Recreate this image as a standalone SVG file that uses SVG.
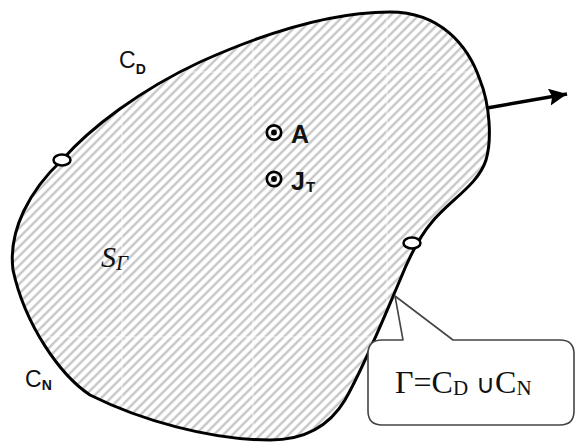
<svg xmlns="http://www.w3.org/2000/svg" width="576" height="443" viewBox="0 0 576 443">
<style>
.sans{font-family:"Liberation Sans",Arial,sans-serif;fill:#111}
.serif{font-family:"Liberation Serif","Times New Roman",serif;fill:#111}
.bnd{fill:url(#hatch);stroke:none}
.mk{fill:#fff;stroke:#000;stroke-width:2.5}
.seam{stroke:#fff;stroke-width:1.2;opacity:0.7}
</style>
<defs>
<pattern id="hatch" patternUnits="userSpaceOnUse" width="6.6" height="6.6" patternTransform="rotate(45)">
<rect width="6.6" height="6.6" fill="#fff"/>
<line x1="3.3" y1="0" x2="3.3" y2="6.6" stroke="#c2c2c2" stroke-width="2.2"/>
</pattern>
<clipPath id="regionClip">
<path d="M62,160 C90,128 140,90 200,62 C260,35 330,12 390,12 C440,12 468,45 480,80 C490,105 492,140 486,160 C478,185 450,200 432,222 C420,236 410,255 400,280 C385,315 365,365 345,400 C330,425 305,440 270,440 C210,440 140,420 90,395 C60,375 25,325 13,270 C8,230 30,190 62,160 Z"/>
</clipPath>
<marker id="arrowHead" markerUnits="userSpaceOnUse" markerWidth="19" markerHeight="18" refX="18" refY="8.5" orient="auto">
<path d="M0,0 L18,8.5 L0,17 L3,8.5 Z" fill="#000"/>
</marker>
</defs>
<rect width="576" height="443" fill="#fff"/>
<g id="region">
<path class="bnd" d="M62,160 C90,128 140,90 200,62 C260,35 330,12 390,12 C440,12 468,45 480,80 C490,105 492,140 486,160 C478,185 450,200 432,222 C420,236 410,255 400,280 C385,315 365,365 345,400 C330,425 305,440 270,440 C210,440 140,420 90,395 C60,375 25,325 13,270 C8,230 30,190 62,160 Z"/>
<g clip-path="url(#regionClip)">
<line class="seam" x1="122" y1="0" x2="122" y2="443"/>
<line class="seam" x1="253" y1="0" x2="253" y2="443"/>
<line class="seam" x1="387" y1="0" x2="387" y2="443"/>
<line class="seam" x1="0" y1="72" x2="576" y2="72"/>
<line class="seam" x1="0" y1="337" x2="576" y2="337"/>
</g>
<path d="M62,160 C90,128 140,90 200,62 C260,35 330,12 390,12 C440,12 468,45 480,80 C490,105 492,140 486,160 C478,185 450,200 432,222 C420,236 410,255 400,280 C385,315 365,365 345,400 C330,425 305,440 270,440 C210,440 140,420 90,395 C60,375 25,325 13,270 C8,230 30,190 62,160 Z" fill="none" stroke="#000" stroke-width="3"/>
<text class="serif" x="101" y="267" font-size="30" font-style="italic">S<tspan font-size="21" dy="3">Γ</tspan></text>
</g>
<g id="markerLeft"><ellipse class="mk" cx="62" cy="160" rx="8.5" ry="5.5"/></g>
<g id="markerRight"><ellipse class="mk" cx="412" cy="243" rx="8.5" ry="5.5"/></g>
<g id="labelCD">
<text class="sans" x="119" y="68" font-size="23">C<tspan font-size="14" font-weight="bold" dy="6">D</tspan></text>
</g>
<g id="labelCN">
<text class="sans" x="25" y="387" font-size="23">C<tspan font-size="14" font-weight="bold" dy="3">N</tspan></text>
</g>
<g id="nodeA">
<circle cx="274" cy="132.5" r="7.2" fill="none" stroke="#000" stroke-width="2.7"/>
<circle cx="274" cy="132.5" r="2.9" fill="#000"/>
<text class="sans" x="291" y="143" font-size="25" font-weight="bold">A</text>
</g>
<g id="nodeJT">
<circle cx="274" cy="179" r="7.2" fill="none" stroke="#000" stroke-width="2.7"/>
<circle cx="274" cy="179" r="2.9" fill="#000"/>
<text class="sans" x="291" y="190" font-size="25" font-weight="bold">J<tspan font-size="15" dx="1" dy="2">T</tspan></text>
</g>
<g id="callout">
<path d="M395,296 L403,340 L382,340 Q368,340 368,354 L368,411 Q368,425 382,425 L560,425 Q574,425 574,411 L574,354 Q574,340 560,340 L453,340 Z" fill="#fff" stroke="#444" stroke-width="1.6" stroke-linejoin="round"/>
<text class="serif" y="393" font-size="32"><tspan x="395">Γ=C</tspan><tspan font-size="21" dy="2">D</tspan><tspan font-size="26" dx="8" dy="-2">∪</tspan><tspan font-size="32">C</tspan><tspan font-size="21" dy="2">N</tspan></text>
</g>
<g id="connectors">
<line x1="487" y1="108" x2="567" y2="94" stroke="#000" stroke-width="3.5" marker-end="url(#arrowHead)"/>
</g>
</svg>
